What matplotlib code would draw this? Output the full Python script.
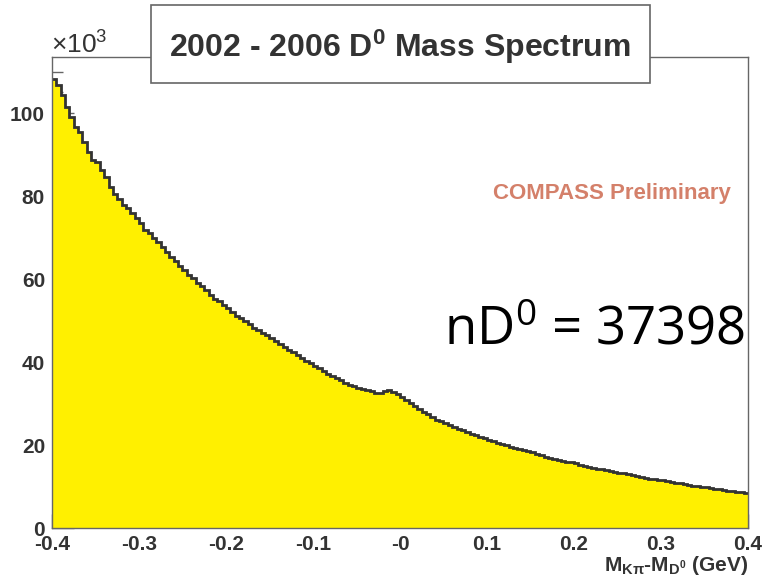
import numpy as np
import matplotlib
matplotlib.use("Agg")
import matplotlib.pyplot as plt
from matplotlib.patches import Rectangle

# Kpi - D0 mass difference, 160 bins of 5 MeV, entries in units of 10^3
x_lo, x_hi = -0.4, 0.4
counts_k = [
    108.1, 106.7, 104.3, 101.4, 99.1, 96.7, 95.5, 93.1, 90.7, 88.7,
    88.2, 86.3, 84.7, 82.2, 80.6, 79.4, 77.8, 77.0, 75.8, 74.6,
    73.4, 71.8, 71.0, 69.8, 68.9, 67.8, 66.6, 65.3, 64.4, 63.2,
    62.1, 61.0, 60.2, 59.1, 58.2, 57.3, 56.2, 55.3, 54.6, 53.7,
    52.9, 52.1, 51.1, 50.5, 49.8, 49.2, 48.3, 47.6, 47.0, 46.4,
    45.8, 45.1, 44.3, 43.6, 43.0, 42.4, 41.6, 40.9, 40.2, 39.7,
    39.0, 38.5, 37.8, 37.1, 36.6, 36.1, 35.6, 34.9, 34.5, 34.1,
    33.7, 33.4, 33.3, 32.9, 32.6, 32.6, 32.9, 33.2, 32.8, 32.2,
    31.5, 30.8, 30.1, 29.4, 28.6, 28.0, 27.4, 26.8, 26.1, 25.7,
    25.4, 24.9, 24.3, 23.9, 23.5, 23.2, 22.7, 22.4, 22.0, 21.6,
    21.3, 21.0, 20.6, 20.3, 20.0, 19.6, 19.3, 19.1, 18.8, 18.5,
    18.2, 17.8, 17.5, 17.2, 16.9, 16.6, 16.4, 16.2, 15.9, 15.8,
    15.6, 15.3, 15.0, 14.8, 14.5, 14.3, 14.1, 13.9, 13.7, 13.6,
    13.3, 13.2, 13.0, 12.8, 12.6, 12.4, 12.1, 11.9, 11.8, 11.6,
    11.5, 11.4, 11.1, 10.9, 10.8, 10.6, 10.4, 10.2, 10.1, 9.9,
    9.8, 9.6, 9.4, 9.3, 9.2, 9.0, 8.9, 8.7, 8.6, 8.5,
]
x_ticks = [-0.4, -0.3, -0.2, -0.1, 0.0, 0.1, 0.2, 0.3, 0.4]
x_ticklabels = ["-0.4", "-0.3", "-0.2", "-0.1", "-0", "0.1", "0.2", "0.3", "0.4"]
y_ticks = [0, 20, 40, 60, 80, 100]
n_d0 = 37398

plt.rcParams["font.family"] = ["Liberation Sans", "DejaVu Sans"]
plt.rcParams["axes.unicode_minus"] = False
plt.rcParams["mathtext.fontset"] = "custom"
plt.rcParams["mathtext.bf"] = "Liberation Sans:bold"
plt.rcParams["mathtext.it"] = "Liberation Sans:bold"
plt.rcParams["mathtext.rm"] = "Open Sans"
plt.rcParams["mathtext.sf"] = "Liberation Sans"
plt.rcParams["mathtext.default"] = "bf"

dark = "#333333"
frame = "#666666"

counts = np.array(counts_k)
edges = np.linspace(x_lo, x_hi, len(counts) + 1)

fig = plt.figure(figsize=(7.64, 5.8), dpi=100)
ax = fig.add_axes([52 / 764, 1 - 528 / 580, 696 / 764, 471 / 580])

ax.stairs(counts, edges, fill=True, color="#fff000", zorder=2)
ax.stairs(counts, edges, color=dark, linewidth=2.0, baseline=None, zorder=3)

ax.set_xlim(x_lo, x_hi)
ax.set_ylim(0, 1.05 * counts.max())
ax.set_xticks(x_ticks)
ax.set_xticklabels(x_ticklabels)
ax.set_xticks(np.arange(-0.4, 0.401, 0.02), minor=True)
ax.set_yticks(y_ticks)
ax.set_yticks(np.arange(0, 112, 5), minor=True)

for s in ax.spines.values():
    s.set_color(frame)
    s.set_linewidth(1.0)
    s.set_zorder(4)

ax.tick_params(axis="both", which="both", direction="in", color=frame,
               labelcolor=dark, labelsize=15, width=1.0)
ax.tick_params(axis="x", which="major", length=10, pad=5)
ax.tick_params(axis="x", which="minor", length=5)
ax.tick_params(axis="y", which="major", length=16, pad=5)
ax.tick_params(axis="y", which="minor", length=8)
for lab in ax.get_xticklabels() + ax.get_yticklabels():
    lab.set_fontweight("bold")

# exponent marker above the y axis
fig.text(51 / 764, 1 - 54 / 580, r"$\mathsf{\times10^{3}}$", color=dark,
         fontsize=19, ha="left", va="baseline")

# axis title, right aligned below the tick labels
fig.text(748 / 764, 1 - 571 / 580, r"M$_{K\pi}$-M$_{D^{0}}$ (GeV)", color=dark,
         fontsize=15, fontweight="bold", ha="right", va="baseline")

# title box
fig.patches.append(Rectangle((151 / 764, 1 - 83 / 580), 499 / 764, 78 / 580,
                             transform=fig.transFigure, facecolor="white",
                             edgecolor=frame, linewidth=1.2, zorder=5))
fig.text(400 / 764, 1 - 47 / 580, r"2002 - 2006 D$^{0}$ Mass Spectrum",
         color=dark, fontsize=23, fontweight="bold", ha="center", va="center",
         zorder=6)

ax.text(0.975, 0.71, "COMPASS Preliminary", transform=ax.transAxes,
        color="#d4806a", fontsize=16, fontweight="bold", ha="right",
        va="center", zorder=6)

ax.text(0.996, 0.39, r"$\mathrm{nD^{0}}$ = %d" % n_d0, transform=ax.transAxes,
        color="black", fontsize=38, family="Open Sans", ha="right",
        va="baseline", zorder=6)

fig.savefig("out.png", dpi=100)
